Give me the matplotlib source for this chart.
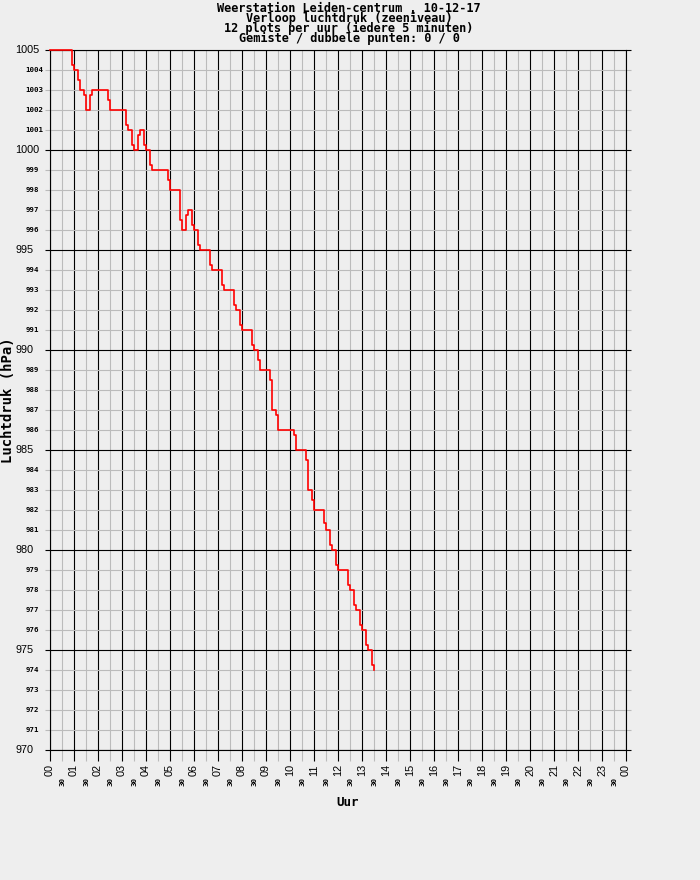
import numpy as np
import matplotlib
matplotlib.use('Agg')
import matplotlib.pyplot as plt
from matplotlib.transforms import blended_transform_factory

# Meetwaarden luchtdruk (hPa), alleen de momenten waarop de waarde verandert
tijd_min = [0, 55, 60, 70, 75, 85, 90, 100, 105, 145, 150, 190, 195, 205, 210,
            220, 225, 235, 240, 250, 255, 295, 300, 325, 330, 340, 345, 355, 360,
            370, 375, 400, 405, 430, 435, 460, 465, 475, 480, 505, 510, 520, 525,
            550, 555, 565, 570, 610, 615, 640, 645, 655, 660, 685, 690, 700, 705,
            715, 720, 745, 750, 760, 765, 775, 780, 790, 795, 805, 810]
druk = [1005, 1004.25, 1004, 1003.5, 1003, 1002.75, 1002, 1002.75, 1003, 1002.5,
        1002, 1001.25, 1001, 1000.25, 1000, 1000.75, 1001, 1000.25, 1000, 999.25,
        999, 998.5, 998, 996.5, 996, 996.75, 997, 996.25, 996, 995.25, 995,
        994.25, 994, 993.25, 993, 992.25, 992, 991.25, 991, 990.25, 990, 989.5,
        989, 988.5, 987, 986.75, 986, 985.75, 985, 984.5, 983, 982.5, 982,
        981.33, 981, 980.25, 980, 979.25, 979, 978.25, 978, 977.25, 977, 976.25,
        976, 975.25, 975, 974.25, 974]

uur_labels = ['%02d' % (h % 24) for h in range(25)]
titel = ['Weerstation Leiden-centrum , 10-12-17',
         'Verloop luchtdruk (zeeniveau)',
         '12 plots per uur (iedere 5 minuten)',
         'Gemiste / dubbele punten: 0 / 0']

W, H = 700, 880
bg = '#eeeeee'
grijs = '#bbbbbb'
fig = plt.figure(figsize=(W / 100, H / 100), dpi=100, facecolor=bg)
ax = fig.add_axes([50 / W, 130 / H, 576 / W, 700 / H], facecolor=bg)

x = np.array(tijd_min) / 60.0
ax.plot(x, druk, color='#ff0000', lw=1.2, drawstyle='steps-post',
        zorder=5, clip_on=False)

ax.set_xlim(0, 24)
ax.set_ylim(970, 1005)
ax.set_xticks(np.arange(0, 25, 1))
ax.set_xticks(np.arange(0.5, 24, 1), minor=True)
ax.set_yticks(np.arange(970, 1006, 5))
ax.set_yticks(np.arange(970, 1006, 1), minor=True)

ax.grid(which='major', color='black', lw=0.8, zorder=1)
ax.grid(which='minor', color=grijs, lw=0.8, zorder=0)
ax.set_axisbelow(True)
for s in ax.spines.values():
    s.set_color('black')
    s.set_linewidth(0.8)

ax.tick_params(axis='both', which='both', labelbottom=False, labelleft=False,
               width=0.8, direction='out')
ax.tick_params(axis='y', which='both', length=3.6, right=True)
ax.tick_params(axis='x', which='both', length=7.9)
ax.tick_params(which='major', color='black')
ax.tick_params(which='minor', color=grijs)

# y-as labels (links uitgelijnd zoals in het origineel)
ty = blended_transform_factory(fig.transFigure, ax.transData)
for v in range(970, 1006):
    if v % 5 == 0:
        ax.text(15 / W, v, str(v), transform=ty, ha='left', va='center',
                fontsize=7.8, family='Liberation Sans')
    else:
        ax.text(25.5 / W, v, str(v), transform=ty, ha='left', va='center',
                fontsize=5.3, family='DejaVu Sans Mono', weight='bold')

# x-as labels
tx = blended_transform_factory(ax.transData, fig.transFigure)
for h in range(25):
    ax.text(h, 1 - 764 / H, uur_labels[h], transform=tx, ha='center', va='top',
            rotation=90, fontsize=7.8, family='Liberation Sans')
for h in range(24):
    ax.text(h + 0.5, 1 - 777 / H, '30', transform=tx, ha='center', va='top',
            rotation=90, fontsize=5.3, family='DejaVu Sans Mono', weight='bold')

fig.text(349 / W, 1 - 1.5 / H, '\n'.join(titel), ha='center', va='top',
         multialignment='center', linespacing=0.72,
         fontsize=8.6, family='DejaVu Sans Mono', weight='bold')

fig.text(8 / W, 1 - 400 / H, 'Luchtdruk (hPa)', rotation=90, ha='center',
         va='center', fontsize=10, family='DejaVu Sans Mono', weight='bold')
fig.text(348 / W, 1 - 802 / H, 'Uur', ha='center', va='center',
         fontsize=9, family='DejaVu Sans Mono', weight='bold')

fig.savefig('out.png', dpi=100, facecolor=bg)
